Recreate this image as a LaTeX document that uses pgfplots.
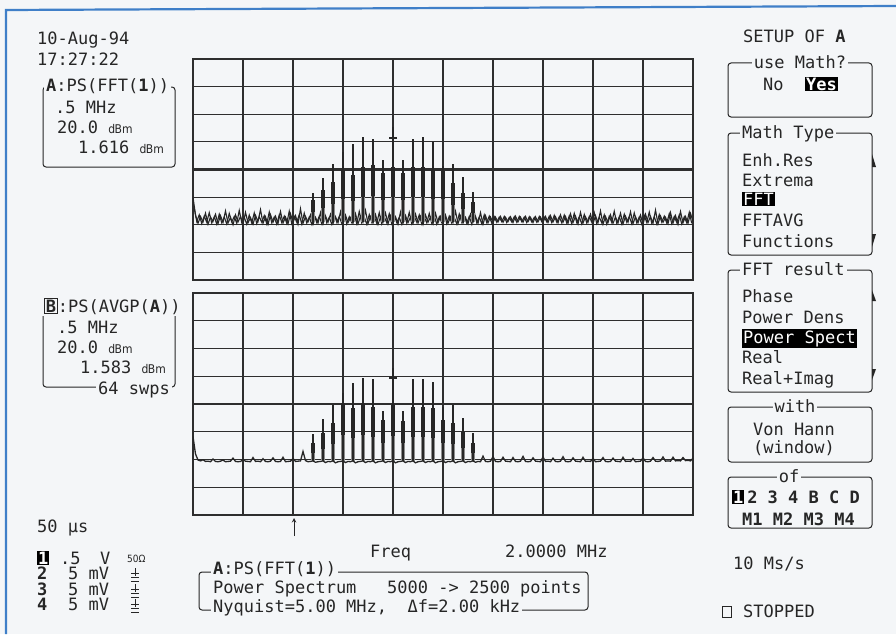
\documentclass[border=0pt]{standalone}
\usepackage{pgfplots}
\pgfplotsset{compat=1.18}
\usepackage{fontspec}
\setmainfont{DejaVu Sans Mono}
\newfontfamily\cond{DejaVu Sans Condensed}
\definecolor{bg}{HTML}{F4F6F8}
\definecolor{gridc}{HTML}{2E2E2E}
\definecolor{ink}{HTML}{262626}
\definecolor{skirt}{HTML}{8E8E8E}
\definecolor{frameblue}{HTML}{3F7FC8}
\newcommand{\sz}{\fontsize{17}{20}\selectfont}
\newcommand{\dbm}{{\cond\fontsize{12}{12}\selectfont d\kern-0.5pt Bm}}
\newcommand{\inv}[1]{{\setlength{\fboxsep}{1pt}\colorbox{black}{\textcolor{white}{#1}}}}
\newcommand{\gnd}[2]{\draw[line width=0.9pt,ink] (#1,#2-11)--(#1,#2-3) (#1-4,#2-6)--(#1+4,#2-6) (#1-4,#2-2)--(#1+4,#2-2) (#1-4,#2+2)--(#1+4,#2+2);}
\pgfplotsset{scopegrid/.style={
  scale only axis, width=500pt, xmin=0, xmax=10, ymin=0, ymax=8,
  xtick={0,...,10}, ytick={0,...,8}, xticklabels={}, yticklabels={},
  major tick length=0pt, grid=major,
  grid style={line width=1.1pt, color=gridc},
  axis line style={line width=1.3pt, color=gridc},
  extra x ticks={5}, extra y ticks={4}, extra x tick labels={}, extra y tick labels={},
  extra tick style={grid style={line width=2.2pt, color=gridc}},
  unbounded coords=jump, clip=true}}
\begin{document}
\begin{tikzpicture}
\begin{scope}[x=1pt,y=-1pt]
\fill[bg] (0,0) rectangle (896,634);
\path[use as bounding box] (0,0) rectangle (896,634);
\draw[frameblue, line width=2.2pt] (6,634)--(6,10)--(896,6);
\end{scope}

% ---------------- top grid: A = PS(FFT(1))
\begin{axis}[scopegrid, at={(193pt,-59pt)}, anchor=north west, height=221pt]
\addplot[ink, line width=1.1pt] coordinates {
(0,3.00)(0.05,2.35)(0.1,2.05)(0.15,2.30)(0.2,2.10)(0.25,2.42)(0.3,2.02)(0.35,2.28)(0.4,2.12)(0.45,2.38)
(0.5,2.04)(0.55,2.33)(0.6,2.08)(0.65,2.50)(0.7,2.06)(0.75,2.27)(0.8,2.00)(0.85,2.36)(0.9,2.10)(0.95,2.30)
(1,2.03)(1.05,2.45)(1.1,2.07)(1.15,2.26)(1.2,2.02)(1.25,2.34)(1.3,2.12)(1.35,2.55)(1.4,2.05)(1.45,2.29)
(1.5,2.01)(1.55,2.37)(1.6,2.09)(1.65,2.31)(1.7,2.04)(1.75,2.48)(1.8,2.06)(1.85,2.28)(1.9,2.03)(1.95,2.40)
(2,2.08)(2.05,2.33)(2.1,2.02)(2.15,2.58)(2.2,2.05)(2.25,2.30)(2.3,2.10)(2.35,2.36)(2.4,2.01)(2.45,2.27)
(2.5,2.06)(2.55,2.44)(2.6,2.03)(2.65,2.32)(2.7,2.09)(2.75,2.38)(2.8,2.04)(2.85,2.29)(2.9,2.07)(2.95,2.47)
(3,2.02)(3.05,2.35)(3.1,2.08)(3.15,2.26)(3.2,2.05)(3.25,2.40)(3.3,2.03)(3.35,2.31)(3.4,2.10)(3.45,2.52)
(3.5,2.04)(3.55,2.30)(3.6,2.06)(3.65,2.37)(3.7,2.01)(3.75,2.28)(3.8,2.09)(3.85,2.43)(3.9,2.03)(3.95,2.33)
(4,2.07)(4.05,2.29)(4.1,2.02)(4.15,2.46)(4.2,2.05)(4.25,2.34)(4.3,2.08)(4.35,2.27)(4.4,2.04)(4.45,2.39)
(4.5,2.06)(4.55,2.31)(4.6,2.01)(4.65,2.36)(4.7,2.09)(4.75,2.28)(4.8,2.03)(4.85,2.42)(4.9,2.07)(4.95,2.30)
(5,2.02)(5.05,2.35)(5.1,2.05)(5.15,2.29)(5.2,2.08)(5.25,2.49)(5.3,2.04)(5.35,2.32)(5.4,2.06)(5.45,2.27)
(5.5,2.03)(5.55,2.38)(5.6,2.09)(5.65,2.30)(5.7,2.05)(5.75,2.44)(5.8,2.02)(5.85,2.33)(5.9,2.07)(5.95,2.28)
(6,2.08)(6.05,2.28)(6.1,2.10)(6.15,2.30)(6.2,2.09)(6.25,2.27)(6.3,2.11)(6.35,2.29)(6.4,2.08)(6.45,2.31)
(6.5,2.10)(6.55,2.28)(6.6,2.09)(6.65,2.30)(6.7,2.11)(6.75,2.27)(6.8,2.08)(6.85,2.29)(6.9,2.10)(6.95,2.28)
(7,2.09)(7.05,2.30)(7.1,2.08)(7.15,2.33)(7.2,2.10)(7.25,2.29)(7.3,2.07)(7.35,2.36)(7.4,2.09)(7.45,2.30)
(7.5,2.05)(7.55,2.40)(7.6,2.08)(7.65,2.31)(7.7,2.03)(7.75,2.45)(7.8,2.06)(7.85,2.29)(7.9,2.09)(7.95,2.38)
(8,2.04)(8.05,2.33)(8.1,2.07)(8.15,2.50)(8.2,2.02)(8.25,2.30)(8.3,2.08)(8.35,2.36)(8.4,2.05)(8.45,2.28)
(8.5,2.06)(8.55,2.42)(8.6,2.03)(8.65,2.31)(8.7,2.09)(8.75,2.47)(8.8,2.04)(8.85,2.29)(8.9,2.07)(8.95,2.35)
(9,2.02)(9.05,2.38)(9.1,2.08)(9.15,2.30)(9.2,2.05)(9.25,2.53)(9.3,2.03)(9.35,2.32)(9.4,2.09)(9.45,2.27)
(9.5,2.04)(9.55,2.44)(9.6,2.06)(9.65,2.33)(9.7,2.02)(9.75,2.48)(9.8,2.07)(9.85,2.30)(9.9,2.05)(9.95,2.41)(10,2.12)
};
\addplot[ink, line width=1.1pt] coordinates {
(0.025,2.60)(0.075,2.12)(0.125,2.36)(0.175,2.04)(0.225,2.31)(0.275,2.09)(0.325,2.44)(0.375,2.06)(0.425,2.29)(0.475,2.02)
(0.525,2.38)(0.575,2.07)(0.625,2.28)(0.675,2.03)(0.725,2.41)(0.775,2.10)(0.825,2.30)(0.875,2.05)(0.925,2.52)(0.975,2.08)
(1.025,2.27)(1.075,2.02)(1.125,2.35)(1.175,2.06)(1.225,2.43)(1.275,2.04)(1.325,2.29)(1.375,2.09)(1.425,2.33)(1.475,2.03)
(1.525,2.46)(1.575,2.07)(1.625,2.28)(1.675,2.02)(1.725,2.36)(1.775,2.08)(1.825,2.31)(1.875,2.05)(1.925,2.49)(1.975,2.04)
(2.025,2.30)(2.075,2.09)(2.125,2.37)(2.175,2.03)(2.225,2.42)(2.275,2.06)(2.325,2.28)(2.375,2.02)(2.425,2.35)(2.475,2.08)
(2.525,2.31)(2.575,2.04)(2.625,2.45)(2.675,2.07)(2.725,2.27)(2.775,2.02)(2.825,2.39)(2.875,2.09)(2.925,2.30)(2.975,2.05)
(3.025,2.43)(3.075,2.03)(3.125,2.29)(3.175,2.08)(3.225,2.36)(3.275,2.04)(3.325,2.48)(3.375,2.06)(3.425,2.28)(3.475,2.02)
(3.525,2.37)(3.575,2.09)(3.625,2.31)(3.675,2.05)(3.725,2.44)(3.775,2.03)(3.825,2.29)(3.875,2.07)(3.925,2.40)(3.975,2.04)
(4.025,2.33)(4.075,2.08)(4.125,2.27)(4.175,2.02)(4.225,2.38)(4.275,2.06)(4.325,2.45)(4.375,2.04)(4.425,2.30)(4.475,2.09)
(4.525,2.36)(4.575,2.03)(4.625,2.28)(4.675,2.07)(4.725,2.41)(4.775,2.05)(4.825,2.32)(4.875,2.02)(4.925,2.29)(4.975,2.08)
(5.025,2.44)(5.075,2.04)(5.125,2.31)(5.175,2.06)(5.225,2.27)(5.275,2.03)(5.325,2.39)(5.375,2.09)(5.425,2.33)(5.475,2.05)
(5.525,2.30)(5.575,2.02)(5.625,2.47)(5.675,2.07)(5.725,2.28)(5.775,2.04)(5.825,2.36)(5.875,2.08)(5.925,2.31)(5.975,2.06)
(6.025,2.29)(6.075,2.09)(6.125,2.28)(6.175,2.11)(6.225,2.30)(6.275,2.08)(6.325,2.27)(6.375,2.10)(6.425,2.29)(6.475,2.09)
(6.525,2.30)(6.575,2.11)(6.625,2.28)(6.675,2.08)(6.725,2.29)(6.775,2.10)(6.825,2.27)(6.875,2.09)(6.925,2.30)(6.975,2.11)
(7.025,2.28)(7.075,2.10)(7.125,2.31)(7.175,2.08)(7.225,2.34)(7.275,2.09)(7.325,2.29)(7.375,2.07)(7.425,2.35)(7.475,2.06)
(7.525,2.32)(7.575,2.04)(7.625,2.41)(7.675,2.08)(7.725,2.29)(7.775,2.03)(7.825,2.37)(7.875,2.06)(7.925,2.30)(7.975,2.09)
(8.025,2.44)(8.075,2.04)(8.125,2.28)(8.175,2.07)(8.225,2.36)(8.275,2.02)(8.325,2.31)(8.375,2.08)(8.425,2.49)(8.475,2.05)
(8.525,2.29)(8.575,2.03)(8.625,2.38)(8.675,2.09)(8.725,2.30)(8.775,2.04)(8.825,2.43)(8.875,2.07)(8.925,2.28)(8.975,2.02)
(9.025,2.34)(9.075,2.08)(9.125,2.46)(9.175,2.05)(9.225,2.29)(9.275,2.03)(9.325,2.37)(9.375,2.09)(9.425,2.31)(9.475,2.06)
(9.525,2.40)(9.575,2.04)(9.625,2.30)(9.675,2.08)(9.725,2.36)(9.775,2.03)(9.825,2.29)(9.875,2.07)(9.925,2.45)(9.975,2.05)
};
% light skirt of the spectral lines
\addplot[skirt, line width=3.4pt] coordinates {
(2.4,2.1)(2.4,2.90)(2.4,nan) (2.6,2.1)(2.6,3.26)(2.6,nan) (2.8,2.1)(2.8,3.56)(2.8,nan)
(3.0,2.1)(3.0,3.99)(3.0,nan) (3.2,2.1)(3.2,3.80)(3.2,nan) (3.4,2.1)(3.4,4.10)(3.4,nan)
(3.6,2.1)(3.6,4.17)(3.6,nan) (3.8,2.1)(3.8,3.87)(3.8,nan) (4.0,2.1)(4.0,4.10)(4.0,nan)
(4.2,2.1)(4.2,3.87)(4.2,nan) (4.4,2.1)(4.4,4.10)(4.4,nan) (4.6,2.1)(4.6,4.10)(4.6,nan)
(4.8,2.1)(4.8,3.99)(4.8,nan) (5.0,2.1)(5.0,3.93)(5.0,nan) (5.2,2.1)(5.2,3.50)(5.2,nan)
(5.4,2.1)(5.4,3.14)(5.4,nan) (5.6,2.1)(5.6,2.84)
};
% dark body of the spectral lines
\addplot[ink, line width=3.4pt] coordinates {
(2.4,2.46)(2.4,2.90)(2.4,nan) (2.6,2.62)(2.6,3.26)(2.6,nan) (2.8,2.76)(2.8,3.56)(2.8,nan)
(3.0,2.95)(3.0,3.99)(3.0,nan) (3.2,2.87)(3.2,3.80)(3.2,nan) (3.4,3.00)(3.4,4.10)(3.4,nan)
(3.6,3.03)(3.6,4.17)(3.6,nan) (3.8,2.90)(3.8,3.87)(3.8,nan) (4.0,3.00)(4.0,4.10)(4.0,nan)
(4.2,2.90)(4.2,3.87)(4.2,nan) (4.4,3.00)(4.4,4.10)(4.4,nan) (4.6,3.00)(4.6,4.10)(4.6,nan)
(4.8,2.95)(4.8,3.99)(4.8,nan) (5.0,2.92)(5.0,3.93)(5.0,nan) (5.2,2.73)(5.2,3.50)(5.2,nan)
(5.4,2.57)(5.4,3.14)(5.4,nan) (5.6,2.43)(5.6,2.84)
};
% thin peaks
\addplot[ink, line width=1.2pt] coordinates {
(2.4,2.1)(2.4,3.14)(2.4,nan) (2.6,2.1)(2.6,3.69)(2.6,nan) (2.8,2.1)(2.8,4.21)(2.8,nan)
(3.0,2.1)(3.0,4.65)(3.0,nan) (3.2,2.1)(3.2,4.93)(3.2,nan) (3.4,2.1)(3.4,5.17)(3.4,nan)
(3.6,2.1)(3.6,5.11)(3.6,nan) (3.8,2.1)(3.8,4.33)(3.8,nan) (4.0,2.1)(4.0,5.53)(4.0,nan)
(4.2,2.1)(4.2,4.33)(4.2,nan) (4.4,2.1)(4.4,5.11)(4.4,nan) (4.6,2.1)(4.6,5.17)(4.6,nan)
(4.8,2.1)(4.8,4.99)(4.8,nan) (5.0,2.1)(5.0,4.11)(5.0,nan) (5.2,2.1)(5.2,4.21)(5.2,nan)
(5.4,2.1)(5.4,3.72)(5.4,nan) (5.6,2.1)(5.6,3.20)
};
\addplot[only marks, mark=-, mark size=4pt, mark options={ink, line width=1.6pt}] coordinates {(4,5.14)};
\end{axis}

% ---------------- bottom grid: B = PS(AVGP(A))
\begin{axis}[scopegrid, at={(193pt,-293pt)}, anchor=north west, height=222pt]
\addplot[ink, line width=1.3pt] coordinates {
(0,2.83)(0.05,2.20)(0.1,1.98)(0.15,1.95)(0.2,1.99)(0.25,1.93)(0.3,1.94)(0.35,1.92)(0.4,2.02)(0.45,1.93)
(0.5,1.92)(0.55,1.94)(0.6,1.98)(0.65,1.92)(0.7,1.93)(0.75,1.94)(0.8,2.05)(0.85,1.93)(0.9,1.92)(0.95,1.93)
(1,1.99)(1.05,1.94)(1.1,1.93)(1.15,1.92)(1.2,2.07)(1.25,1.93)(1.3,1.94)(1.35,1.92)(1.4,2.03)(1.45,1.93)
(1.5,1.92)(1.55,1.94)(1.6,2.06)(1.65,1.93)(1.7,1.92)(1.75,1.93)(1.8,2.08)(1.85,1.92)(1.9,1.93)(1.95,1.94)
(2,2.04)(2.05,1.93)(2.1,1.94)(2.15,1.95)(2.2,2.29)(2.25,1.96)(2.3,1.92)(2.35,1.93)(2.4,1.95)(2.45,1.90)
(2.5,1.92)(2.55,1.93)(2.6,1.95)(2.65,1.89)(2.7,1.93)(2.75,1.92)(2.8,1.95)(2.85,1.88)(2.9,1.92)(2.95,1.93)
(3,1.95)(3.05,1.89)(3.1,1.93)(3.15,1.92)(3.2,1.95)(3.25,1.88)(3.3,1.92)(3.35,1.93)(3.4,1.95)(3.45,1.89)
(3.5,1.93)(3.55,1.92)(3.6,1.95)(3.65,1.88)(3.7,1.92)(3.75,1.93)(3.8,1.95)(3.85,1.89)(3.9,1.93)(3.95,1.92)
(4,1.95)(4.05,1.88)(4.1,1.92)(4.15,1.93)(4.2,1.95)(4.25,1.89)(4.3,1.93)(4.35,1.92)(4.4,1.95)(4.45,1.88)
(4.5,1.92)(4.55,1.93)(4.6,1.95)(4.65,1.89)(4.7,1.93)(4.75,1.92)(4.8,1.95)(4.85,1.88)(4.9,1.92)(4.95,1.93)
(5,1.95)(5.05,1.89)(5.1,1.93)(5.15,1.92)(5.2,1.95)(5.25,1.88)(5.3,1.92)(5.35,1.93)(5.4,1.95)(5.45,1.89)
(5.5,1.93)(5.55,1.92)(5.6,1.95)(5.65,1.90)(5.7,1.93)(5.75,1.92)(5.8,2.12)(5.85,1.93)(5.9,1.92)(5.95,1.94)
(6,2.10)(6.05,1.93)(6.1,1.92)(6.15,1.93)(6.2,2.08)(6.25,1.94)(6.3,1.93)(6.35,1.92)(6.4,2.07)(6.45,1.93)
(6.5,1.92)(6.55,1.94)(6.6,2.11)(6.65,1.93)(6.7,1.92)(6.75,1.93)(6.8,2.06)(6.85,1.94)(6.9,1.93)(6.95,1.92)
(7,2.09)(7.05,1.93)(7.1,1.94)(7.15,1.92)(7.2,2.05)(7.25,1.93)(7.3,1.92)(7.35,1.94)(7.4,2.10)(7.45,1.93)
(7.5,1.92)(7.55,1.93)(7.6,2.06)(7.65,1.94)(7.7,1.93)(7.75,1.92)(7.8,2.08)(7.85,1.93)(7.9,1.94)(7.95,1.93)
(8,2.04)(8.05,1.92)(8.1,1.93)(8.15,1.94)(8.2,2.07)(8.25,1.93)(8.3,1.92)(8.35,1.93)(8.4,2.05)(8.45,1.94)
(8.5,1.93)(8.55,1.92)(8.6,2.08)(8.65,1.93)(8.7,1.94)(8.75,1.93)(8.8,2.04)(8.85,1.92)(8.9,1.93)(8.95,1.94)
(9,2.06)(9.05,1.93)(9.1,1.92)(9.15,1.94)(9.2,2.07)(9.25,1.94)(9.3,1.93)(9.35,1.95)(9.4,2.09)(9.45,1.94)
(9.5,1.95)(9.55,1.94)(9.6,2.08)(9.65,1.95)(9.7,1.96)(9.75,1.95)(9.8,2.07)(9.85,1.96)(9.9,1.97)(9.95,1.95)(10,2.05)
};
\addplot[skirt, line width=3.4pt] coordinates {
(2.4,1.93)(2.4,2.60)(2.4,nan) (2.6,1.93)(2.6,2.95)(2.6,nan) (2.8,1.93)(2.8,3.30)(2.8,nan)
(3.0,1.93)(3.0,4.03)(3.0,nan) (3.2,1.93)(3.2,3.85)(3.2,nan) (3.4,1.93)(3.4,4.03)(3.4,nan)
(3.6,1.93)(3.6,3.90)(3.6,nan) (3.8,1.93)(3.8,3.43)(3.8,nan) (4.0,1.93)(4.0,3.97)(4.0,nan)
(4.2,1.93)(4.2,3.37)(4.2,nan) (4.4,1.93)(4.4,3.90)(4.4,nan) (4.6,1.93)(4.6,3.90)(4.6,nan)
(4.8,1.93)(4.8,3.85)(4.8,nan) (5.0,1.93)(5.0,3.43)(5.0,nan) (5.2,1.93)(5.2,3.30)(5.2,nan)
(5.4,1.93)(5.4,3.00)(5.4,nan) (5.6,1.93)(5.6,2.60)
};
\addplot[ink, line width=3.4pt] coordinates {
(2.4,2.23)(2.4,2.60)(2.4,nan) (2.6,2.39)(2.6,2.95)(2.6,nan) (2.8,2.55)(2.8,3.30)(2.8,nan)
(3.0,2.88)(3.0,4.03)(3.0,nan) (3.2,2.79)(3.2,3.85)(3.2,nan) (3.4,2.88)(3.4,4.03)(3.4,nan)
(3.6,2.82)(3.6,3.90)(3.6,nan) (3.8,2.60)(3.8,3.43)(3.8,nan) (4.0,2.85)(4.0,3.97)(4.0,nan)
(4.2,2.58)(4.2,3.37)(4.2,nan) (4.4,2.82)(4.4,3.90)(4.4,nan) (4.6,2.82)(4.6,3.90)(4.6,nan)
(4.8,2.79)(4.8,3.85)(4.8,nan) (5.0,2.60)(5.0,3.43)(5.0,nan) (5.2,2.55)(5.2,3.30)(5.2,nan)
(5.4,2.41)(5.4,3.00)(5.4,nan) (5.6,2.23)(5.6,2.60)
};
\addplot[ink, line width=1.2pt] coordinates {
(2.4,1.93)(2.4,2.92)(2.4,nan) (2.6,1.93)(2.6,3.45)(2.6,nan) (2.8,1.93)(2.8,3.97)(2.8,nan)
(3.0,1.93)(3.0,4.39)(3.0,nan) (3.2,1.93)(3.2,4.75)(3.2,nan) (3.4,1.93)(3.4,4.93)(3.4,nan)
(3.6,1.93)(3.6,4.90)(3.6,nan) (3.8,1.93)(3.8,3.73)(3.8,nan) (4.0,1.93)(4.0,5.29)(4.0,nan)
(4.2,1.93)(4.2,3.73)(4.2,nan) (4.4,1.93)(4.4,4.90)(4.4,nan) (4.6,1.93)(4.6,4.90)(4.6,nan)
(4.8,1.93)(4.8,4.78)(4.8,nan) (5.0,1.93)(5.0,3.91)(5.0,nan) (5.2,1.93)(5.2,3.97)(5.2,nan)
(5.4,1.93)(5.4,3.49)(5.4,nan) (5.6,1.93)(5.6,2.97)
};
\addplot[only marks, mark=-, mark size=4pt, mark options={ink, line width=1.6pt}] coordinates {(4,4.93)};
\end{axis}

% ---------------- texts and frames
\begin{scope}[x=1pt,y=-1pt, every node/.style={font=\sz, text=ink, inner sep=0pt, anchor=base west}]
\tikzset{mask/.style={fill=bg, inner xsep=2pt, inner ysep=1.5pt}}
% left top
\node at (37,45) {10-Aug-94};
\node at (37,65) {17:27:22};
\draw[ink, line width=1pt, rounded corners=3pt] (43,87) rectangle (175,167);
\node[mask] at (44,92) {\textbf{A}:PS(FFT(\textbf{1}))};
\node at (55,113) {.5 MHz};
\node at (57,133) {20.0 \dbm};
\node at (78,153) {1.616 \dbm};
% left middle
\draw[ink, line width=1pt, rounded corners=3pt] (43,306) rectangle (175,387);
\node[mask] at (42,312) {{\setlength{\fboxsep}{0.5pt}\setlength{\fboxrule}{1.2pt}\fbox{\textbf{B}}}:PS(AVGP(\textbf{A}))};
\node at (57,333) {.5 MHz};
\node at (57,353) {20.0 \dbm};
\node at (80,373) {1.583 \dbm};
\node[mask] at (96,394) {64 swps};
% left bottom
\node at (37,532) {50 µs};
\node at (37,564) {\inv{\textbf{1}}};
\node at (60,564) {.5};
\node at (100,564) {V};
\node at (127,562) {{\cond\fontsize{10}{10}\selectfont 50Ω}};
\node at (37,579) {\textbf{2}};
\node at (37,595) {\textbf{3}};
\node at (37,610) {\textbf{4}};
\node at (68,579) {5 mV};
\node at (68,595) {5 mV};
\node at (68,610) {5 mV};
\gnd{135}{579}
\gnd{135}{595}
\gnd{135}{610}
% bottom centre
\draw[ink, line width=1pt, ->, >=stealth] (294,536)--(294,518);
\node at (370,557) {Freq};
\node at (505,557) {2.0000 MHz};
\draw[ink, line width=1pt, rounded corners=3pt] (199,572) rectangle (588,610);
\node[mask] at (211,574) {\textbf{A}:PS(FFT(\textbf{1}))};
\node at (213,593) {Power Spectrum~~~5000 -> 2500 points};
\node[mask] at (211,612) {Nyquist=5.00 MHz,~~Δf=2.00 kHz};
% right panel
\node at (743,42) {SETUP OF \textbf{A}};
\draw[ink, line width=1pt, rounded corners=3pt] (728,63) rectangle (872,117);
\node[mask, anchor=base] at (800,68) {use Math?};
\node at (763,90) {No};
\node at (805,90) {\inv{\textbf{Yes}}};
\draw[ink, line width=1pt, rounded corners=3pt] (728,133) rectangle (872,255);
\node[mask] at (740,138) {Math Type};
\node at (742,166) {Enh.Res};
\node at (742,186) {Extrema};
\node at (742,205) {\inv{FFT}};
\node at (742,226) {FFTAVG};
\node at (742,247) {Functions};
\fill[ink] (872,154)--(876,167)--(872,167)--cycle;
\fill[ink] (872,234)--(876,234)--(872,247)--cycle;
\draw[ink, line width=1pt, rounded corners=3pt] (728,270) rectangle (872,392);
\node[mask] at (740,275) {FFT result};
\node at (742,302) {Phase};
\node at (742,323) {Power Dens};
\node at (742,343) {\inv{Power Spect}};
\node at (742,363) {Real};
\node at (742,384) {Real+Imag};
\fill[ink] (872,290)--(876,301)--(872,301)--cycle;
\fill[ink] (872,369)--(876,369)--(872,380)--cycle;
\draw[ink, line width=1pt, rounded corners=3pt] (728,407) rectangle (872,462);
\node[mask, anchor=base] at (795,412) {with};
\node[anchor=base] at (794,435) {Von Hann};
\node[anchor=base] at (794,453) {(window)};
\draw[ink, line width=1pt, rounded corners=3pt] (728,477) rectangle (872,528);
\node[mask, anchor=base] at (789,482) {of};
\node at (732,503) {\inv{\textbf{1}}\,\textbf{2 3 4 B C D}};
\node at (742,525) {\textbf{M1 M2 M3 M4}};
\node at (733,569) {10 Ms/s};
\draw[ink, line width=1pt] (722,606) rectangle (731,617);
\node at (743,617) {STOPPED};
\end{scope}
\end{tikzpicture}
\end{document}
